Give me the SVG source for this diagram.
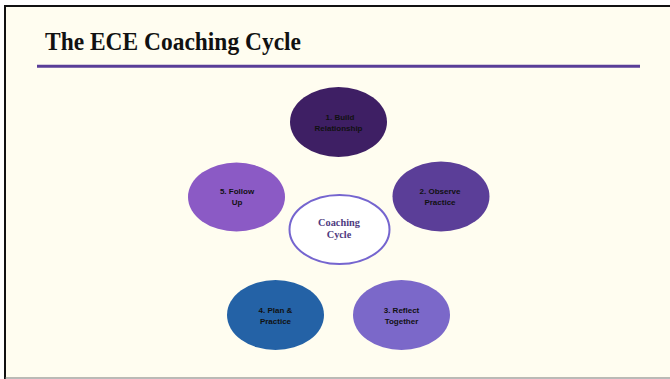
<svg xmlns="http://www.w3.org/2000/svg" width="670" height="379" viewBox="0 0 670 379">
<style>
.node text{font-family:"Liberation Sans",Arial,sans-serif;font-weight:bold;font-size:8px;fill:#111;text-anchor:middle}
.ctr{font-family:"Liberation Serif","Times New Roman",serif;font-weight:bold;font-size:10.3px;fill:#4f3a80;text-anchor:middle}
</style>
<rect x="0" y="0" width="670" height="379" fill="#ffffff"/>
<rect x="5" y="6" width="670" height="372" fill="#fffdf0"/>
<line x1="5" y1="6" x2="670" y2="6" stroke="#111" stroke-width="2"/>
<line x1="5" y1="5" x2="5" y2="379" stroke="#111" stroke-width="2"/>
<line x1="5" y1="378" x2="670" y2="378" stroke="#777" stroke-width="1"/>
<text x="45" y="50" font-family="'Liberation Serif','Times New Roman',serif" font-weight="bold" font-size="25" fill="#111" textLength="256" lengthAdjust="spacingAndGlyphs">The ECE Coaching Cycle</text>
<line x1="37" y1="66.3" x2="640" y2="66.3" stroke="#5a3e98" stroke-width="3"/>
<g id="connectors"></g>
<g id="node1" class="node">
<ellipse cx="338.5" cy="122" rx="48.5" ry="35" fill="#3e1f64"/>
<text x="340" y="120">1. Build</text>
<text x="338.5" y="131">Relationship</text>
</g>
<g id="node2" class="node">
<ellipse cx="441" cy="196.5" rx="48.5" ry="35" fill="#5b3e98"/>
<text x="440" y="194">2. Observe</text>
<text x="440" y="205">Practice</text>
</g>
<g id="node3" class="node">
<ellipse cx="401.5" cy="315" rx="48.5" ry="35" fill="#7b68c9"/>
<text x="401.5" y="313">3. Reflect</text>
<text x="401.5" y="324">Together</text>
</g>
<g id="node4" class="node">
<ellipse cx="275.5" cy="315" rx="48.5" ry="35" fill="#2462a6"/>
<text x="275.5" y="313">4. Plan &amp;</text>
<text x="275.5" y="324">Practice</text>
</g>
<g id="node5" class="node">
<ellipse cx="236.5" cy="197" rx="48.5" ry="34.5" fill="#8b5ac5"/>
<text x="237" y="194">5. Follow</text>
<text x="237" y="205">Up</text>
</g>
<g id="center">
<ellipse cx="339.5" cy="229.5" rx="50" ry="34.5" fill="#ffffff" stroke="#7565cf" stroke-width="2"/>
<text class="ctr" x="339" y="226">Coaching</text>
<text class="ctr" x="339" y="238">Cycle</text>
</g>
</svg>
